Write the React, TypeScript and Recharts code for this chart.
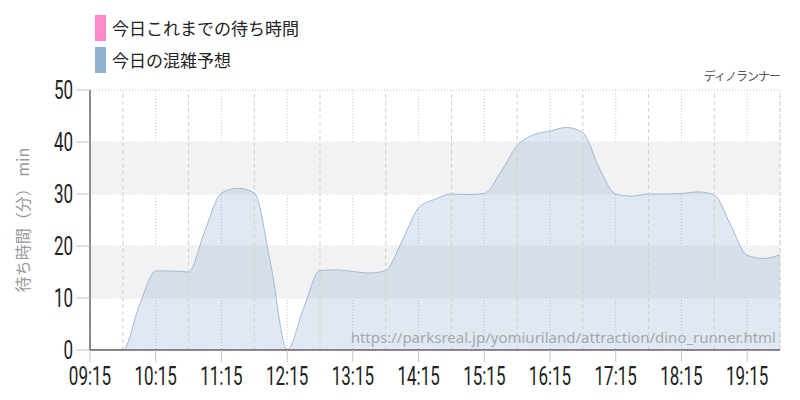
import React from "react";
import {
  AreaChart,
  Area,
  XAxis,
  YAxis,
  CartesianGrid,
  ReferenceArea,
  ReferenceLine,
} from "recharts";

const times = [
  "09:15", "09:30", "09:45", "10:00", "10:15", "10:30", "10:45", "11:00",
  "11:15", "11:30", "11:45", "12:00", "12:15", "12:30", "12:45", "13:00",
  "13:15", "13:30", "13:45", "14:00", "14:15", "14:30", "14:45", "15:00",
  "15:15", "15:30", "15:45", "16:00", "16:15", "16:30", "16:45", "17:00",
  "17:15", "17:30", "17:45", "18:00", "18:15", "18:30", "18:45", "19:00",
  "19:15", "19:30", "19:45",
];

const forecast = [
  0, 0, 0, 8.5, 15.2, 15.2, 15.0, 23, 30.2, 31.1, 30.2, 16.5, 0, 8, 15.3,
  15.4, 15.1, 14.8, 15.3, 21, 27.3, 29, 30, 29.9, 30.1, 34.2, 39.3, 41.4,
  42.1, 42.8, 41.8, 35, 30, 29.6, 30, 30, 30.1, 30.4, 29.8, 24, 18.2, 17.6,
  18.3,
];

const actual: (number | null)[] = times.map(() => null);

const xTickLabels = [
  "09:15", "10:15", "11:15", "12:15", "13:15", "14:15", "15:15", "16:15",
  "17:15", "18:15", "19:15",
];
const halfHourLabels = [
  "09:45", "10:45", "11:45", "12:45", "13:45", "14:45", "15:45", "16:45",
  "17:45", "18:45", "19:45",
];
const yTicks = [0, 10, 20, 30, 40, 50];
const bands = [
  [10, 20],
  [30, 40],
];

const legendKeys = ["actual", "forecast"] as const;
const seriesNames = {
  actual: "今日これまでの待ち時間",
  forecast: "今日の混雑予想",
};
const colors = {
  actual: "#ff88c8",
  forecast: "#8fb1d0",
};

const toMin = (s: string) => {
  const [h, m] = s.split(":").map(Number);
  return h * 60 + m;
};
const fmt = (v: number) => {
  const h = Math.floor(v / 60);
  const m = v % 60;
  return `${String(h).padStart(2, "0")}:${String(m).padStart(2, "0")}`;
};

const data = times.map((t, i) => ({
  t: toMin(t),
  forecast: forecast[i],
  actual: actual[i],
}));

const xTicks = xTickLabels.map(toMin);
const halfTicks = halfHourLabels.map(toMin);
const domainX = [toMin(times[0]), toMin(times[times.length - 1])];

const NUM_FONT = "Roboto, 'Liberation Sans', sans-serif";
const CJK_FONT = "'Noto Sans CJK JP', 'Noto Sans', sans-serif";

const XTick = (props: any) => {
  const { x, y, payload } = props;
  return (
    <g transform={`translate(${x},${y})`}>
      <text
        transform="scale(0.68,1)"
        x={0}
        y={19}
        textAnchor="middle"
        fill="#222"
        fontSize={25}
        fontFamily={NUM_FONT}
      >
        {fmt(payload.value)}
      </text>
    </g>
  );
};

const YTick = (props: any) => {
  const { x, y, payload } = props;
  return (
    <g transform={`translate(${x},${y})`}>
      <text
        transform="scale(0.68,1)"
        x={0}
        y={9}
        textAnchor="end"
        fill="#222"
        fontSize={25}
        fontFamily={NUM_FONT}
      >
        {payload.value}
      </text>
    </g>
  );
};

export default function App() {
  return (
    <div
      style={{
        position: "absolute",
        left: 0,
        top: 0,
        width: 800,
        height: 400,
        background: "#fff",
      }}
    >
      <AreaChart
        width={800}
        height={400}
        data={data}
        margin={{ top: 90, right: 20, left: 0, bottom: 0 }}
      >
        {bands.map(([a, b]) => (
          <ReferenceArea
            key={a}
            y1={a}
            y2={b}
            fill="#f2f2f2"
            fillOpacity={1}
            stroke="none"
            ifOverflow="hidden"
          />
        ))}
        <CartesianGrid
          stroke="#c4c4c4"
          strokeDasharray="1 2"
          vertical={true}
          horizontal={true}
        />
        {halfTicks.map((v) => (
          <ReferenceLine
            key={v}
            x={v}
            stroke="#cfcfcf"
            strokeDasharray="4 3"
            ifOverflow="visible"
          />
        ))}
        <XAxis
          dataKey="t"
          type="number"
          domain={domainX}
          ticks={xTicks}
          allowDataOverflow
          height={50}
          tickSize={12}
          tickMargin={4}
          tick={<XTick />}
          tickLine={{ stroke: "#c4c4c4" }}
          axisLine={{ stroke: "#222" }}
        />
        <YAxis
          domain={[0, 50]}
          ticks={yTicks}
          width={90}
          tickSize={14}
          tickMargin={3}
          tick={<YTick />}
          tickLine={{ stroke: "#c4c4c4" }}
          axisLine={{ stroke: "#222" }}
          allowDataOverflow
        />
        <Area
          type="monotone"
          dataKey="actual"
          name={seriesNames.actual}
          stroke={colors.actual}
          fill={colors.actual}
          fillOpacity={0.3}
          isAnimationActive={false}
          connectNulls={false}
        />
        <Area
          type="monotone"
          dataKey="forecast"
          name={seriesNames.forecast}
          stroke="#9dbad5"
          strokeWidth={1}
          fill={colors.forecast}
          fillOpacity={0.28}
          isAnimationActive={false}
          dot={false}
          activeDot={false}
        />
      </AreaChart>
      <div
        style={{
          position: "absolute",
          left: 95,
          top: 15,
          display: "flex",
          flexDirection: "column",
          gap: 6,
        }}
      >
        {legendKeys.map((key) => (
          <div
            key={key}
            style={{ display: "flex", alignItems: "center", height: 26 }}
          >
            <div
              style={{
                width: 11,
                height: 26,
                background: colors[key],
                marginRight: 6,
              }}
            />
            <span
              style={{
                fontFamily: CJK_FONT,
                fontSize: 17,
                color: "#222",
                lineHeight: "26px",
              }}
            >
              {seriesNames[key]}
            </span>
          </div>
        ))}
      </div>
      <div
        style={{
          position: "absolute",
          left: 0,
          top: 140,
          width: 44,
          height: 160,
          display: "flex",
          alignItems: "center",
          justifyContent: "center",
        }}
      >
        <div
          style={{
            transform: "rotate(-90deg)",
            whiteSpace: "nowrap",
            fontFamily: CJK_FONT,
            fontSize: 16,
            color: "#999",
          }}
        >
          待ち時間（分） min
        </div>
      </div>
      <div
        style={{
          position: "absolute",
          right: 20,
          top: 67,
          fontFamily: CJK_FONT,
          fontSize: 12,
          letterSpacing: -1,
          color: "#555",
          whiteSpace: "nowrap",
        }}
      >
        ディノランナー
      </div>
      <div
        style={{
          position: "absolute",
          right: 24,
          top: 327,
          fontFamily: "'Noto Sans', 'Open Sans', sans-serif",
          fontSize: 15,
          color: "#a3a8ae",
          whiteSpace: "nowrap",
        }}
      >
        https://parksreal.jp/yomiuriland/attraction/dino_runner.html
      </div>
    </div>
  );
}
